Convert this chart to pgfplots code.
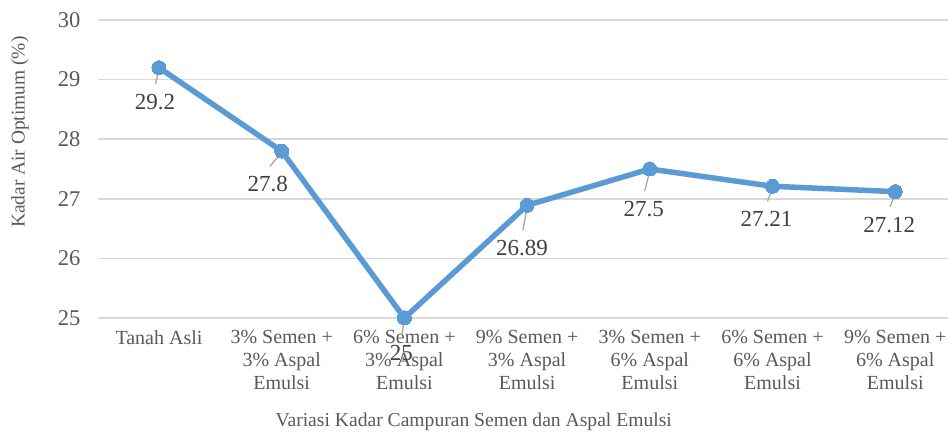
\documentclass[border=0pt]{standalone}
\usepackage{pgfplots}
\pgfplotsset{compat=1.18}
\usepackage{fontspec}
\setmainfont{Liberation Serif}
\definecolor{lineblue}{HTML}{5B9BD5}
\definecolor{txt}{HTML}{595959}
\definecolor{lbltxt}{HTML}{404040}
\definecolor{gridc}{HTML}{D9D9D9}
\definecolor{lead}{HTML}{A6A6A6}
% #1 x, #2 y, #3 dx (bp), #4 dy down (bp), #5 text
\newcommand\dlabel[5]{%
  \draw[lead, line width=1.3bp] ([yshift=-2bp]axis cs:#1,#2) -- ([xshift={0.85*(#3)*1bp}, yshift={-((#4)-18)*1bp}]axis cs:#1,#2);
  \node[text=lbltxt, font=\fontsize{23bp}{26bp}\selectfont, inner sep=0pt, anchor=center]
    at ([xshift={(#3)*1bp}, yshift={-(#4)*1bp}]axis cs:#1,#2) {#5};
}
\begin{document}
\begin{tikzpicture}
\begin{axis}[
  name=ax,
  scale only axis,
  width=850bp, height=298bp,
  xmin=-0.497, xmax=6.43,
  ymin=25, ymax=30,
  ytick={25,26,...,30},
  xtick={0,...,6},
  xticklabels={Tanah Asli,
    {3\% Semen +\\3\% Aspal\\Emulsi},
    {6\% Semen +\\3\% Aspal\\Emulsi},
    {9\% Semen +\\3\% Aspal\\Emulsi},
    {3\% Semen +\\6\% Aspal\\Emulsi},
    {6\% Semen +\\6\% Aspal\\Emulsi},
    {9\% Semen +\\6\% Aspal\\Emulsi}},
  axis line style={draw=none},
  major tick length=0pt,
  ymajorgrids,
  grid style={gridc, line width=1.5bp},
  /pgf/number format/assume math mode=true,
  xticklabel style={align=center, text=txt, font=\fontsize{20bp}{23bp}\selectfont, yshift=-9bp},
  yticklabel style={text=txt, font=\fontsize{22.5bp}{26bp}\selectfont, xshift=-14bp},
  xlabel={Variasi Kadar Campuran Semen dan Aspal Emulsi},
  ylabel={Kadar Air Optimum (\%)},
  xlabel style={text=txt, font=\fontsize{19.6bp}{24bp}\selectfont, at={(axis description cs:0.442,0)}, anchor=center, yshift=-104bp},
  ylabel style={text=txt, font=\fontsize{19.4bp}{24bp}\selectfont, at={(axis description cs:-0.0918,0.624)}, anchor=center, rotate=0},
  clip=false,
]
\addplot[lineblue, line width=5.5bp, mark=*, mark size=7bp, mark options={fill=lineblue, draw=lineblue, line width=0pt}]
  coordinates {(0,29.2) (1,27.8) (2,25) (3,26.89) (4,27.5) (5,27.21) (6,27.12)};
\dlabel{0}{29.2}{-4}{34}{29.2}
\dlabel{1}{27.8}{-14}{33}{27.8}
\dlabel{2}{25}{-3}{35}{25}
\dlabel{3}{26.89}{-5}{43}{26.89}
\dlabel{4}{27.5}{-6}{40}{27.5}
\dlabel{5}{27.21}{-6}{33}{27.21}
\dlabel{6}{27.12}{-6}{33}{27.12}
\end{axis}
\pgfresetboundingbox
\path ([xshift=-98bp, yshift=-115bp]ax.south west) rectangle ([yshift=20bp]ax.north east);
\end{tikzpicture}
\end{document}
